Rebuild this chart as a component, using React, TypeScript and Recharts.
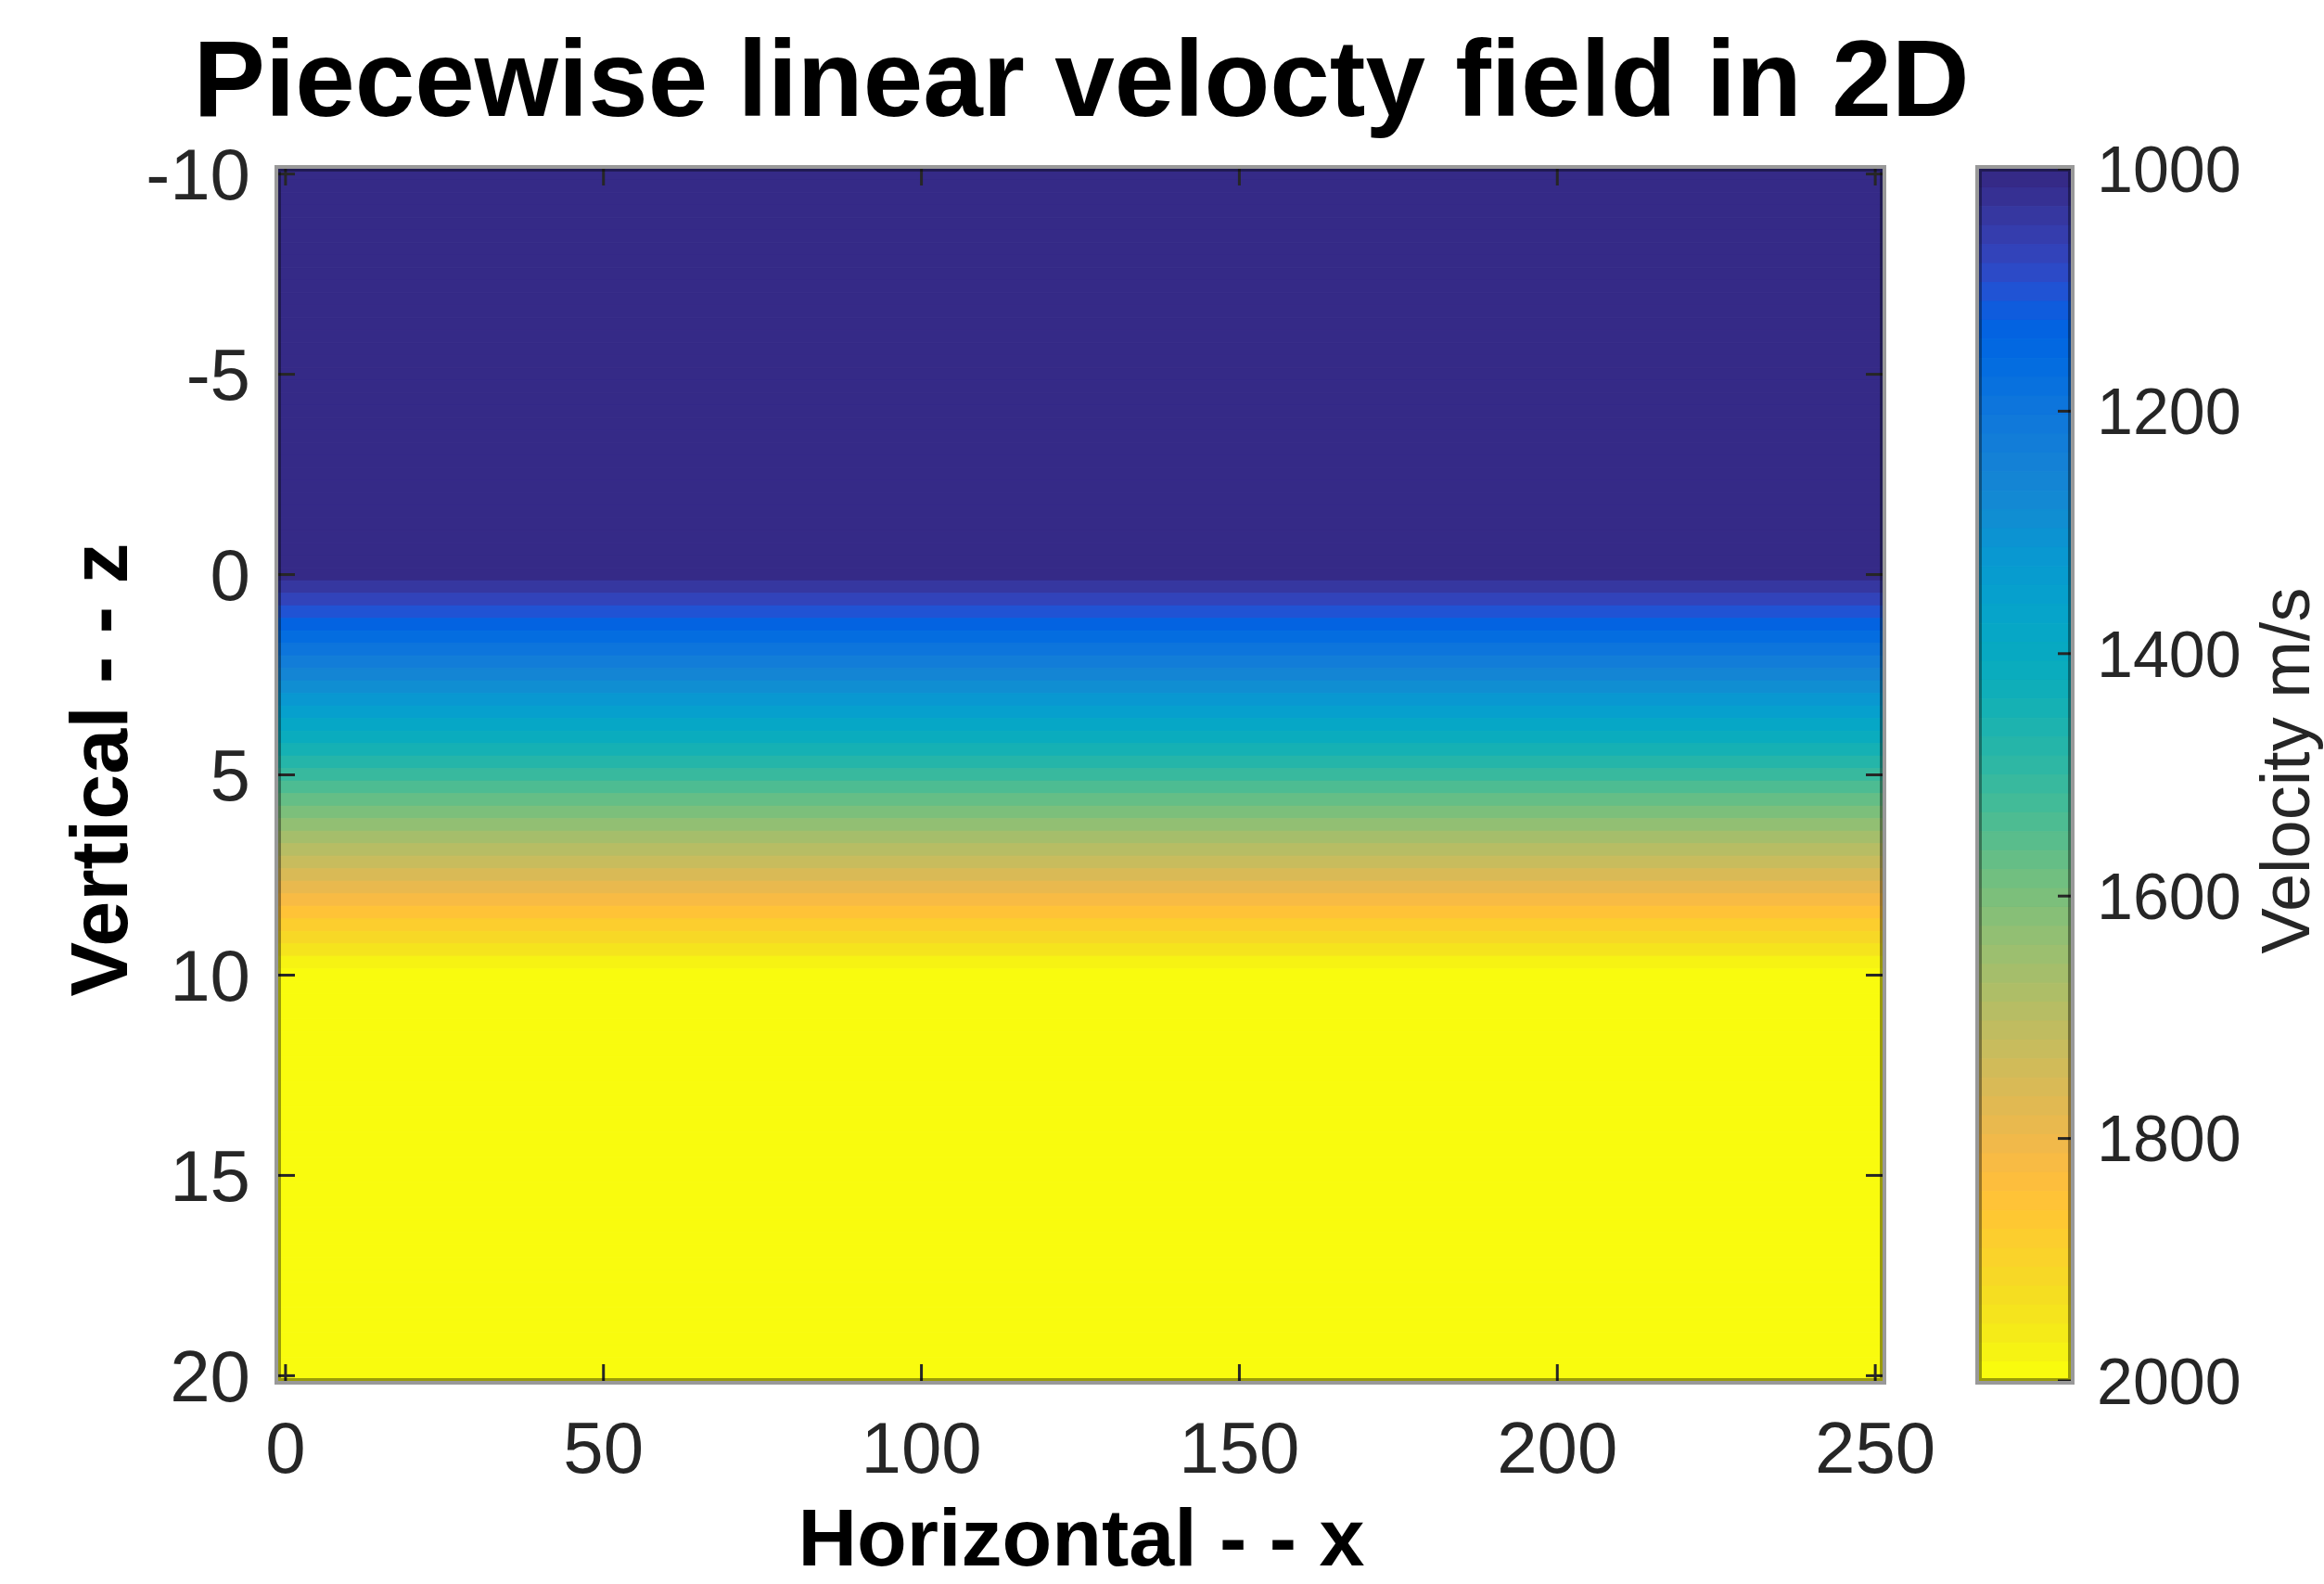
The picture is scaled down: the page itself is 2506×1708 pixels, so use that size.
import React from 'react';
import { ComposedChart, XAxis, YAxis, ReferenceArea, Scatter } from 'recharts';

// ---------- data ----------
const TITLE = 'Piecewise linear velocty field in 2D';
const X_LABEL = 'Horizontal - - x';
const Y_LABEL = 'Vertical - - z';
const CB_LABEL = 'Velocity m/s';

const X_TICKS = [0, 50, 100, 150, 200, 250];
const Z_TICKS = [-10, -5, 0, 5, 10, 15, 20];
const V_TICKS = [1000, 1200, 1400, 1600, 1800, 2000];

const X_RANGE = [-1.15, 251.15];
const Z_RANGE = [-10.13, 20.13];
const V_RANGE = [1000, 2000];
const ROW_HALF = 0.15625;
const X_CENTER = 125;

// depth of each grid row (z)
const DEPTH_ROWS = [
  -10, -9.6875, -9.375, -9.0625, -8.75, -8.4375, -8.125, -7.8125, -7.5, -7.1875,
  -6.875, -6.5625, -6.25, -5.9375, -5.625, -5.3125, -5, -4.6875, -4.375, -4.0625,
  -3.75, -3.4375, -3.125, -2.8125, -2.5, -2.1875, -1.875, -1.5625, -1.25, -0.9375,
  -0.625, -0.3125, 0, 0.3125, 0.625, 0.9375, 1.25, 1.5625, 1.875, 2.1875,
  2.5, 2.8125, 3.125, 3.4375, 3.75, 4.0625, 4.375, 4.6875, 5, 5.3125,
  5.625, 5.9375, 6.25, 6.5625, 6.875, 7.1875, 7.5, 7.8125, 8.125, 8.4375,
  8.75, 9.0625, 9.375, 9.6875, 10, 10.3125, 10.625, 10.9375, 11.25, 11.5625,
  11.875, 12.1875, 12.5, 12.8125, 13.125, 13.4375, 13.75, 14.0625, 14.375, 14.6875,
  15, 15.3125, 15.625, 15.9375, 16.25, 16.5625, 16.875, 17.1875, 17.5, 17.8125,
  18.125, 18.4375, 18.75, 19.0625, 19.375, 19.6875, 20,
];

// velocity of each grid row (m/s), constant along x
const VELOCITY_ROWS = [
  1000, 1000, 1000, 1000, 1000, 1000, 1000, 1000, 1000, 1000,
  1000, 1000, 1000, 1000, 1000, 1000, 1000, 1000, 1000, 1000,
  1000, 1000, 1000, 1000, 1000, 1000, 1000, 1000, 1000, 1000,
  1000, 1000, 1000, 1031.25, 1062.5, 1093.75, 1125, 1156.25, 1187.5, 1218.75,
  1250, 1281.25, 1312.5, 1343.75, 1375, 1406.25, 1437.5, 1468.75, 1500, 1531.25,
  1562.5, 1593.75, 1625, 1656.25, 1687.5, 1718.75, 1750, 1781.25, 1812.5, 1843.75,
  1875, 1906.25, 1937.5, 1968.75, 2000, 2000, 2000, 2000, 2000, 2000,
  2000, 2000, 2000, 2000, 2000, 2000, 2000, 2000, 2000, 2000,
  2000, 2000, 2000, 2000, 2000, 2000, 2000, 2000, 2000, 2000,
  2000, 2000, 2000, 2000, 2000, 2000, 2000,
];

// parula colormap (64)
const PARULA = [
  '#352a87', '#363093', '#3637a0', '#353dad', '#3243ba', '#2c4ac7', '#2053d4', '#0f5cdd',
  '#0363e1', '#0268e1', '#046de0', '#0871de', '#0d75dc', '#1079da', '#127dd8', '#1481d6',
  '#1485d4', '#1389d3', '#108ed2', '#0c93d2', '#0998d1', '#079ccf', '#06a0cd', '#06a4ca',
  '#06a7c6', '#07a9c2', '#0aacbe', '#0faeb9', '#15b1b4', '#1db3af', '#25b5a9', '#2eb7a4',
  '#38b99e', '#42bb98', '#4dbc92', '#59bd8c', '#65be86', '#71bf80', '#7cbf7b', '#87bf77',
  '#92bf73', '#9cbf6f', '#a5be6b', '#aebe67', '#b7bd64', '#c0bc60', '#c8bc5d', '#d1bb59',
  '#d9ba56', '#e1b952', '#e9b94e', '#f1b94a', '#f8bb44', '#fdbe3d', '#ffc337', '#fec832',
  '#fcce2e', '#fad32a', '#f7d826', '#f5de21', '#f5e41d', '#f5eb18', '#f6f313', '#f9fb0e',
];

// ---------- helpers ----------
const FONT = '"Liberation Sans", Arial, Helvetica, sans-serif';
const TICK_COLOR = '#262626';

const colorFor = (v: number) => {
  const m = PARULA.length;
  let idx = Math.floor(((v - V_RANGE[0]) / (V_RANGE[1] - V_RANGE[0])) * m);
  if (idx < 0) idx = 0;
  if (idx > m - 1) idx = m - 1;
  return PARULA[idx];
};

const ROW_DATA = DEPTH_ROWS.map((z, i) => ({ x: X_CENTER, z, v: VELOCITY_ROWS[i] }));
const CB_DATA = PARULA.map((c, i) => ({ x: 0.5, v: V_RANGE[0] + i * ((V_RANGE[1] - V_RANGE[0]) / PARULA.length) }));

const W = 2506;
const H = 1708;
const PLOT = { left: 300, right: 2030, top: 182, bottom: 1489 };
const CBAR = { left: 2134, right: 2233, top: 182, bottom: 1489 };
const AX = 40; // axis band size

const tickLineStyle = { stroke: TICK_COLOR, strokeWidth: 3 };
const NoShape = () => <g />;

export default function App() {
  const cbStep = (V_RANGE[1] - V_RANGE[0]) / PARULA.length;
  return (
    <div style={{ position: 'absolute', left: 0, top: 0, width: W, height: H, background: '#fff' }}>
      {/* main field */}
      <div style={{ position: 'absolute', left: 0, top: 0 }}>
        <ComposedChart
          width={W}
          height={H}
          data={ROW_DATA}
          margin={{
            top: PLOT.top - AX,
            left: PLOT.left - AX,
            right: W - PLOT.right - AX,
            bottom: H - PLOT.bottom - AX,
          }}
        >
          <XAxis
            xAxisId="b"
            dataKey="x"
            type="number"
            orientation="bottom"
            domain={X_RANGE}
            allowDataOverflow
            ticks={X_TICKS}
            interval={0}
            height={AX}
            axisLine={false}
            tickSize={-18}
            tickMargin={62}
            tickLine={tickLineStyle}
            tick={{ fill: TICK_COLOR, fontSize: 78, fontFamily: FONT }}
          />
          <XAxis
            xAxisId="t"
            dataKey="x"
            type="number"
            orientation="top"
            domain={X_RANGE}
            allowDataOverflow
            ticks={X_TICKS}
            interval={0}
            height={AX}
            axisLine={false}
            tickSize={-18}
            tickLine={tickLineStyle}
            tickFormatter={() => ''}
          />
          <YAxis
            yAxisId="l"
            dataKey="z"
            type="number"
            orientation="left"
            domain={Z_RANGE}
            reversed
            allowDataOverflow
            ticks={Z_TICKS}
            interval={0}
            width={AX}
            axisLine={false}
            tickSize={-18}
            tickMargin={48}
            tickLine={tickLineStyle}
            tick={{ fill: TICK_COLOR, fontSize: 78, fontFamily: FONT }}
          />
          <YAxis
            yAxisId="r"
            dataKey="z"
            type="number"
            orientation="right"
            domain={Z_RANGE}
            reversed
            allowDataOverflow
            ticks={Z_TICKS}
            interval={0}
            width={AX}
            axisLine={false}
            tickSize={-18}
            tickLine={tickLineStyle}
            tickFormatter={() => ''}
          />
          {ROW_DATA.map((r, i) => {
            const c = colorFor(r.v);
            return (
              <ReferenceArea
                key={'r' + i}
                xAxisId="b"
                yAxisId="l"
                x1={X_RANGE[0]}
                x2={X_RANGE[1]}
                y1={r.z - ROW_HALF}
                y2={r.z + ROW_HALF}
                fill={c}
                fillOpacity={1}
                stroke={c}
                strokeWidth={1}
                ifOverflow="hidden"
              />
            );
          })}
          <Scatter
            xAxisId="b"
            yAxisId="l"
            dataKey="z"
            data={ROW_DATA}
            shape={NoShape}
            isAnimationActive={false}
          />
        </ComposedChart>
      </div>

      {/* colorbar */}
      <div style={{ position: 'absolute', left: 0, top: 0 }}>
        <ComposedChart
          width={W}
          height={H}
          data={CB_DATA}
          margin={{
            top: CBAR.top,
            left: CBAR.left - AX,
            right: W - CBAR.right - AX,
            bottom: H - CBAR.bottom - AX,
          }}
        >
          <XAxis xAxisId="cx" dataKey="x" type="number" domain={[0, 1]} allowDataOverflow height={AX} tick={false} axisLine={false} tickLine={false} />
          <YAxis yAxisId="cl" dataKey="v" type="number" orientation="left" domain={V_RANGE} reversed allowDataOverflow width={AX} tick={false} axisLine={false} tickLine={false} />
          <YAxis
            yAxisId="cy"
            dataKey="v"
            type="number"
            orientation="right"
            domain={V_RANGE}
            reversed
            allowDataOverflow
            ticks={V_TICKS}
            interval={0}
            width={AX}
            axisLine={false}
            tickSize={-14}
            tickMargin={42}
            tickLine={tickLineStyle}
            tick={{ fill: TICK_COLOR, fontSize: 70, fontFamily: FONT }}
          />
          {CB_DATA.map((d, i) => (
            <ReferenceArea
              key={'c' + i}
              xAxisId="cx"
              yAxisId="cy"
              x1={0}
              x2={1}
              y1={d.v}
              y2={d.v + cbStep}
              fill={PARULA[i]}
              fillOpacity={1}
              stroke={PARULA[i]}
              strokeWidth={1}
              ifOverflow="hidden"
            />
          ))}
          <Scatter
            xAxisId="cx"
            yAxisId="cy"
            dataKey="v"
            data={CB_DATA}
            shape={NoShape}
            isAnimationActive={false}
          />
        </ComposedChart>
      </div>

      {/* frames and labels */}
      <svg
        width={W}
        height={H}
        style={{ position: 'absolute', left: 0, top: 0, pointerEvents: 'none' }}
      >
        <rect
          x={PLOT.left - 2}
          y={PLOT.top - 2}
          width={PLOT.right - PLOT.left + 4}
          height={PLOT.bottom - PLOT.top + 4}
          fill="none"
          stroke="#999999"
          strokeWidth={4}
        />
        <rect
          x={PLOT.left + 1.5}
          y={PLOT.top + 1.5}
          width={PLOT.right - PLOT.left - 3}
          height={PLOT.bottom - PLOT.top - 3}
          fill="none"
          stroke="rgba(0,0,0,0.38)"
          strokeWidth={3}
        />
        <rect
          x={CBAR.left - 2}
          y={CBAR.top - 2}
          width={CBAR.right - CBAR.left + 4}
          height={CBAR.bottom - CBAR.top + 4}
          fill="none"
          stroke="#999999"
          strokeWidth={4}
        />
        <rect
          x={CBAR.left + 1.5}
          y={CBAR.top + 1.5}
          width={CBAR.right - CBAR.left - 3}
          height={CBAR.bottom - CBAR.top - 3}
          fill="none"
          stroke="rgba(0,0,0,0.38)"
          strokeWidth={3}
        />
        <text x={1166} y={125} textAnchor="middle" fontFamily={FONT} fontWeight="bold" fontSize={116} fill="#000">
          {TITLE}
        </text>
        <text x={1166} y={1688} textAnchor="middle" fontFamily={FONT} fontWeight="bold" fontSize={88} fill="#000">
          {X_LABEL}
        </text>
        <text
          transform="translate(137,830) rotate(-90)"
          textAnchor="middle"
          fontFamily={FONT}
          fontWeight="bold"
          fontSize={88}
          fill="#000"
        >
          {Y_LABEL}
        </text>
        <text
          transform="translate(2490,831) rotate(-90)"
          textAnchor="middle"
          fontFamily={FONT}
          fontSize={74}
          fill={TICK_COLOR}
        >
          {CB_LABEL}
        </text>
      </svg>
    </div>
  );
}
